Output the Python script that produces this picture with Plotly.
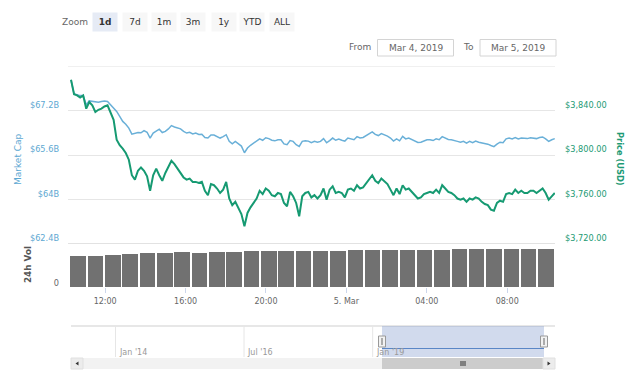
import pandas as pd
import plotly.graph_objects as go

# ---------------- data ----------------
price_usd = [
    3868, 3855, 3854, 3852, 3854, 3842, 3848, 3845, 3839, 3841,
    3842, 3844, 3845, 3839, 3832, 3814, 3809, 3806, 3802, 3796,
    3782, 3778, 3786, 3789, 3786, 3781, 3768, 3782, 3788, 3782,
    3777, 3784, 3790, 3795, 3792, 3788, 3785, 3780, 3778, 3779,
    3776, 3776, 3775, 3776, 3768, 3764, 3774, 3773, 3770, 3766,
    3769, 3776, 3761, 3755, 3758, 3753, 3747, 3736, 3748, 3753,
    3757, 3761, 3768, 3765, 3770, 3768, 3764, 3763, 3766, 3765,
    3757, 3754, 3767, 3763, 3757, 3745, 3763, 3766, 3767, 3762,
    3764, 3761, 3764, 3770, 3760, 3769, 3772, 3766, 3767, 3766,
    3762, 3769, 3770, 3768, 3773, 3770, 3771, 3775, 3779, 3782,
    3777, 3775, 3779, 3776, 3774, 3769, 3764, 3770, 3765, 3773,
    3769, 3770, 3767, 3764, 3761, 3762, 3765, 3766, 3767, 3766,
    3769, 3766, 3773, 3770, 3767, 3766, 3764, 3761, 3760, 3761,
    3758, 3761, 3760, 3762, 3761, 3758, 3756, 3755, 3751, 3750,
    3757, 3759, 3758, 3765, 3766, 3765, 3769, 3766, 3768, 3766,
    3766, 3768, 3768, 3766, 3768, 3770, 3766, 3760, 3763, 3766,
]

market_cap_b = [
    68.31, 67.81, 67.78, 67.75, 67.75, 67.42, 67.56, 67.54, 67.54, 67.51,
    67.54, 67.56, 67.54, 67.42, 67.30, 67.18, 67.00, 66.82, 66.72, 66.58,
    66.36, 66.40, 66.42, 66.41, 66.49, 66.43, 66.22, 66.40, 66.48, 66.54,
    66.42, 66.46, 66.55, 66.67, 66.62, 66.59, 66.55, 66.46, 66.40, 66.43,
    66.37, 66.40, 66.35, 66.36, 66.24, 66.22, 66.33, 66.33, 66.28, 66.22,
    66.27, 66.34, 66.10, 66.01, 66.10, 66.01, 65.93, 65.69, 65.86, 65.96,
    66.04, 66.10, 66.19, 66.14, 66.23, 66.20, 66.14, 66.12, 66.16, 66.16,
    66.01, 65.98, 66.13, 66.10, 65.98, 65.92, 66.10, 66.12, 66.11, 66.05,
    66.10, 66.07, 66.10, 66.20, 66.05, 66.13, 66.22, 66.14, 66.18, 66.14,
    66.11, 66.22, 66.19, 66.16, 66.27, 66.22, 66.24, 66.31, 66.37, 66.44,
    66.35, 66.31, 66.38, 66.34, 66.29, 66.22, 66.11, 66.19, 66.12, 66.28,
    66.19, 66.22, 66.17, 66.12, 66.06, 66.07, 66.13, 66.16, 66.16, 66.13,
    66.19, 66.16, 66.27, 66.23, 66.17, 66.16, 66.14, 66.10, 66.07, 66.10,
    66.04, 66.10, 66.05, 66.11, 66.07, 66.05, 66.01, 66.00, 65.95, 65.91,
    66.00, 66.07, 66.05, 66.19, 66.22, 66.19, 66.24, 66.19, 66.22, 66.20,
    66.20, 66.23, 66.22, 66.20, 66.24, 66.26, 66.19, 66.10, 66.16, 66.20,
]

volume_b = [
    8.65, 8.65, 8.85, 9.10, 9.40, 9.40, 9.70, 9.60, 9.70, 9.85,
    10.05, 10.10, 10.10, 10.10, 10.10, 10.10, 10.20, 10.20, 10.30, 10.30,
    10.40, 10.40, 10.50, 10.50, 10.60, 10.70, 10.60, 10.60,
]

line_start = "2019-03-04 10:18"
line_end = "2019-03-05 10:22"
vol_start = "2019-03-04 10:39"
vol_step = "51min44s"

x_tick_times = ["2019-03-04 12:00", "2019-03-04 16:00", "2019-03-04 20:00",
                "2019-03-05 00:00", "2019-03-05 04:00", "2019-03-05 08:00"]
x_tick_labels = ["12:00", "16:00", "20:00", "5. Mar", "04:00", "08:00"]
x_range = ["2019-03-04 10:09", "2019-03-05 10:22:40"]

mcap_ticks = [62.4, 64.0, 65.6, 67.2]
mcap_labels = ["$62.4B", "$64B", "$65.6B", "$67.2B"]
price_ticks = [3720, 3760, 3800, 3840]
price_labels = ["$3,720.00", "$3,760.00", "$3,800.00", "$3,840.00"]

zoom_buttons = ["1d", "7d", "1m", "3m", "1y", "YTD", "ALL"]
date_from = "Mar 4, 2019"
date_to = "Mar 5, 2019"
nav_labels = ["Jan '14", "Jul '16", "Jan '19"]

# ---------------- helpers ----------------
W, H = 640, 380
FONT = "DejaVu Sans"


def fx(x):
    return x / W


def fy(y):
    return 1 - y / H


line_times = pd.date_range(line_start, line_end, periods=len(price_usd))
vol_times = pd.date_range(vol_start, periods=len(volume_b), freq=vol_step)
bar_width_ms = pd.Timedelta(vol_step).total_seconds() * 1000 * 0.9

MCAP_COLOR = "#6ab0d8"
PRICE_COLOR = "#169a72"

fig = go.Figure()

fig.add_trace(go.Bar(
    x=vol_times, y=volume_b, xaxis="x", yaxis="y3",
    marker=dict(color="#717171", line=dict(width=0)),
    width=bar_width_ms, name="24h Vol", showlegend=False,
))
fig.add_trace(go.Scatter(
    x=line_times, y=market_cap_b, xaxis="x", yaxis="y", mode="lines",
    line=dict(color=MCAP_COLOR, width=1.5), name="Market Cap", showlegend=False,
))
fig.add_trace(go.Scatter(
    x=line_times, y=price_usd, xaxis="x", yaxis="y2", mode="lines",
    line=dict(color=PRICE_COLOR, width=2), name="Price (USD)", showlegend=False,
))

top_dom = [fy(244), fy(66.5)]
vol_dom = [fy(287), fy(244)]

fig.update_layout(
    width=W, height=H,
    margin=dict(l=0, r=0, t=0, b=0),
    paper_bgcolor="white", plot_bgcolor="white",
    font=dict(family=FONT, size=8, color="#666"),
    bargap=0,
    xaxis=dict(
        domain=[fx(68), fx(555)], anchor="y3", type="date", range=x_range,
        tickvals=x_tick_times, ticktext=x_tick_labels,
        ticks="outside", ticklen=5, tickcolor="#ccd6eb",
        showgrid=False, showline=False, zeroline=False,
        tickfont=dict(family=FONT, size=8, color="#666"),
        ticklabelstandoff=1, automargin=False,
    ),
    yaxis=dict(
        domain=top_dom, anchor="x", range=[62.4, 68.8],
        tickvals=mcap_ticks, ticktext=mcap_labels,
        showgrid=True, gridcolor="#e6e6e6", gridwidth=1,
        zeroline=False, showline=False, ticks="",
        tickfont=dict(family=FONT, size=8.2, color="#5da8d2"),
        ticklabelstandoff=8, ticklabelshift=-6, automargin=False,
    ),
    yaxis2=dict(
        domain=top_dom, anchor="x", overlaying="y", side="right",
        range=[3720, 3880],
        tickvals=price_ticks, ticktext=price_labels,
        showgrid=False, zeroline=False, showline=False, ticks="",
        tickfont=dict(family=FONT, size=8.2, color="#1d9a74"),
        ticklabelstandoff=9, ticklabelshift=-6, automargin=False,
    ),
    yaxis3=dict(
        domain=vol_dom, anchor="x", range=[0, 12],
        tickvals=[0], ticktext=["0"],
        showgrid=False, zeroline=False, showline=False, ticks="",
        tickfont=dict(family=FONT, size=8.2, color="#666"),
        ticklabelstandoff=8, ticklabelshift=-4, automargin=False,
    ),
)

shapes = []
annotations = []

# plot top line and volume panel top line
shapes.append(dict(type="line", xref="paper", yref="paper",
                   x0=fx(68), x1=fx(555), y0=fy(66.5), y1=fy(66.5),
                   line=dict(color="#f0f0f0", width=1)))
shapes.append(dict(type="line", xref="paper", yref="paper",
                   x0=fx(68), x1=fx(555), y0=fy(243.5), y1=fy(243.5),
                   line=dict(color="#e2e2e2", width=1)))

# axis titles
annotations.append(dict(text="Market Cap", xref="paper", yref="paper",
                        x=fx(18), y=fy(159), textangle=-90, showarrow=False,
                        xanchor="center", yanchor="middle",
                        font=dict(family=FONT, size=9, color="#5da8d2")))
annotations.append(dict(text="<b>Price (USD)</b>", xref="paper", yref="paper",
                        x=fx(620), y=fy(159), textangle=90, showarrow=False,
                        xanchor="center", yanchor="middle",
                        font=dict(family=FONT, size=8.3, color="#1d9a74")))
annotations.append(dict(text="<b>24h Vol</b>", xref="paper", yref="paper",
                        x=fx(28), y=fy(265), textangle=-90, showarrow=False,
                        xanchor="center", yanchor="middle",
                        font=dict(family=FONT, size=8.8, color="#555")))

# zoom buttons row
annotations.append(dict(text="Zoom", xref="paper", yref="paper",
                        x=fx(75), y=fy(22), showarrow=False,
                        xanchor="center", yanchor="middle",
                        font=dict(family=FONT, size=9, color="#666")))
btn_centers = [105, 135, 164, 193, 224, 252, 282]
for lbl, cx in zip(zoom_buttons, btn_centers):
    sel = lbl == "1d"
    annotations.append(dict(
        text=f"<b>{lbl}</b>" if sel else lbl, xref="paper", yref="paper",
        x=fx(cx), y=fy(22), showarrow=False, xanchor="center", yanchor="middle",
        width=24, height=18, borderpad=0,
        bgcolor="#e6ebf5" if sel else "#f7f7f7",
        font=dict(family=FONT, size=9, color="#333")))

# date inputs
annotations.append(dict(text="From", xref="paper", yref="paper",
                        x=fx(360), y=fy(46.5), showarrow=False,
                        xanchor="center", yanchor="middle",
                        font=dict(family=FONT, size=9, color="#666")))
annotations.append(dict(text="To", xref="paper", yref="paper",
                        x=fx(468), y=fy(46.5), showarrow=False,
                        xanchor="center", yanchor="middle",
                        font=dict(family=FONT, size=9, color="#666")))
for txt, cx in ((date_from, 415.5), (date_to, 518)):
    shapes.append(dict(type="rect", xref="paper", yref="paper",
                       x0=fx(cx - 38), x1=fx(cx + 38), y0=fy(56), y1=fy(39.5),
                       line=dict(color="#d4d4d4", width=1), fillcolor="white"))
    annotations.append(dict(text=txt, xref="paper", yref="paper",
                            x=fx(cx), y=fy(47.5), showarrow=False,
                            xanchor="center", yanchor="middle",
                            font=dict(family=FONT, size=9, color="#666")))

# navigator
nav_top, nav_bot = 326, 357
shapes.append(dict(type="line", xref="paper", yref="paper",
                   x0=fx(71), x1=fx(555), y0=fy(nav_top), y1=fy(nav_top),
                   line=dict(color="#cfcfcf", width=1)))
for gx in (115.5, 244, 372.7):
    shapes.append(dict(type="line", xref="paper", yref="paper",
                       x0=fx(gx), x1=fx(gx), y0=fy(nav_top), y1=fy(nav_bot),
                       line=dict(color="#e6e6e6", width=1)))
shapes.append(dict(type="rect", xref="paper", yref="paper",
                   x0=fx(382), x1=fx(544), y0=fy(nav_bot), y1=fy(nav_top),
                   line=dict(width=0), fillcolor="rgba(102,133,194,0.3)"))
shapes.append(dict(type="line", xref="paper", yref="paper",
                   x0=fx(382), x1=fx(544), y0=fy(348.5), y1=fy(348.5),
                   line=dict(color="#5a86c6", width=1)))
for lbl, lx in zip(nav_labels, (117, 245, 374)):
    annotations.append(dict(text=lbl, xref="paper", yref="paper",
                            x=fx(lx), y=fy(352), showarrow=False,
                            xanchor="left", yanchor="middle",
                            font=dict(family=FONT, size=8, color="#999")))
for hx in (382, 544):
    shapes.append(dict(type="rect", xref="paper", yref="paper",
                       x0=fx(hx - 3.5), x1=fx(hx + 3.5), y0=fy(347), y1=fy(336),
                       line=dict(color="#999", width=1), fillcolor="#f2f2f2"))
    shapes.append(dict(type="line", xref="paper", yref="paper",
                       x0=fx(hx), x1=fx(hx), y0=fy(345), y1=fy(338),
                       line=dict(color="#666", width=1)))

# scrollbar
sb_top, sb_bot = 358, 369
shapes.append(dict(type="rect", xref="paper", yref="paper",
                   x0=fx(71), x1=fx(555), y0=fy(sb_bot), y1=fy(sb_top),
                   line=dict(width=0), fillcolor="#f2f2f2"))
shapes.append(dict(type="rect", xref="paper", yref="paper",
                   x0=fx(382), x1=fx(544), y0=fy(sb_bot), y1=fy(sb_top),
                   line=dict(width=0), fillcolor="#cccccc"))
for bx0, bx1 in ((71, 83), (543, 555)):
    shapes.append(dict(type="rect", xref="paper", yref="paper",
                       x0=fx(bx0), x1=fx(bx1), y0=fy(sb_bot), y1=fy(sb_top),
                       line=dict(color="#e0e0e0", width=1), fillcolor="#ececec"))
shapes.append(dict(type="path", xref="paper", yref="paper",
                   path=f"M {fx(75.5)},{fy(363.5)} L {fx(78.5)},{fy(361.5)} L {fx(78.5)},{fy(365.5)} Z",
                   fillcolor="#333", line=dict(width=0)))
shapes.append(dict(type="path", xref="paper", yref="paper",
                   path=f"M {fx(550.5)},{fy(363.5)} L {fx(547.5)},{fy(361.5)} L {fx(547.5)},{fy(365.5)} Z",
                   fillcolor="#333", line=dict(width=0)))
for gx in (461, 463, 465):
    shapes.append(dict(type="line", xref="paper", yref="paper",
                       x0=fx(gx), x1=fx(gx), y0=fy(366), y1=fy(361),
                       line=dict(color="#333", width=1)))

fig.update_layout(shapes=shapes, annotations=annotations)

fig.write_html(
    "out.html",
    config={"displayModeBar": False},
    post_script="document.body.style.margin='0';document.body.style.padding='0';",
)
